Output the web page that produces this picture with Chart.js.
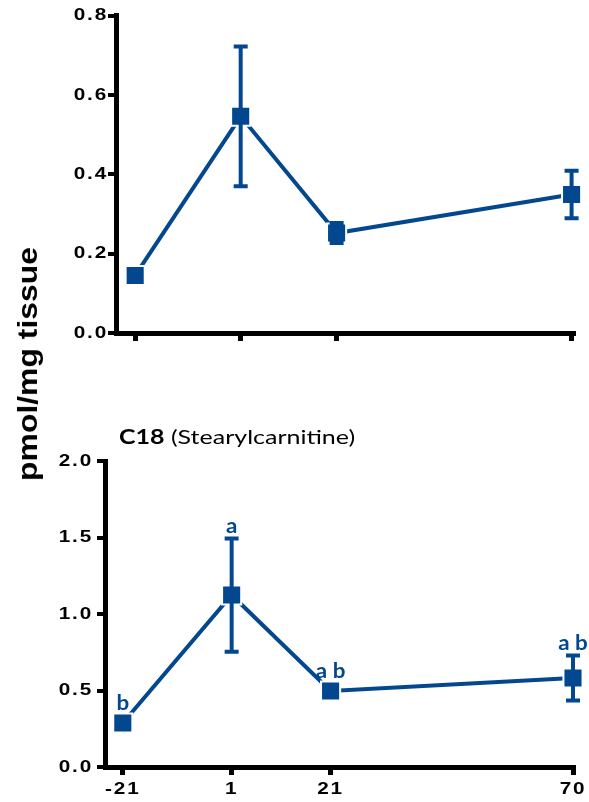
<!DOCTYPE html>
<html>
<head>
<meta charset="utf-8">
<script src="https://cdn.jsdelivr.net/npm/chart.js@4.4.1/dist/chart.umd.min.js"></script>
<style>
  html, body { margin: 0; padding: 0; background: #fff; overflow: hidden; }
  body { width: 589px; height: 802px; position: relative; }
  canvas { position: absolute; left: 0; }
  #topChart { top: 0; }
  #c18Chart { top: 400px; }
  #yTitle {
    position: absolute; left: 28px; top: 364px;
    transform: translate(-50%, -50%) rotate(-90deg) scaleX(1.14);
    font: bold 28px 'Liberation Sans', Arial, sans-serif;
    white-space: nowrap; color: #000;
  }
  #c18Title {
    position: absolute; left: 119px; top: 424px;
    transform-origin: 0 50%; transform: scaleX(1.25);
    font: 20px Lato, sans-serif; color: #000; white-space: nowrap;
  }
</style>
</head>
<body>
<canvas id="topChart" width="589" height="360"></canvas>
<canvas id="c18Chart" width="589" height="402"></canvas>
<div id="yTitle">pmol/mg tissue</div>
<div id="c18Title"><b>C18</b> (Stearylcarnitine)</div>
<script>
// days relative to calving
const days = [-21, 1, 21, 70];

// upper panel
const topMeans = [0.145, 0.546, 0.252, 0.349];
const topErrors = [0.01, 0.176, 0.025, 0.06];
const topYTicks = [0, 0.2, 0.4, 0.6, 0.8];

// C18 panel
const c18Means = [0.288, 1.124, 0.497, 0.582];
const c18Errors = [0.015, 0.37, 0.025, 0.147];
const c18YTicks = [0, 0.5, 1.0, 1.5, 2.0];
const c18Letters = ['b', 'a', 'a b', 'a b'];

const BLUE = '#03478F';
const WIDE = 1.22; // the figure's lettering is set wide

function wideText(ctx, s, px, py, align, k) {
  ctx.save();
  ctx.translate(px, py);
  ctx.scale(k, 1);
  ctx.textAlign = align;
  ctx.fillText(s, 0, 0);
  ctx.restore();
}

// SEM whiskers, significance letters and the wide tick labels
function panelExtras(errors, letters, xLabels, yPad) {
  return {
    id: 'panelExtras',
    afterDatasetsDraw(chart) {
      const ctx = chart.ctx;
      const y = chart.scales.y;
      const ds = chart.data.datasets[0];
      const pts = chart.getDatasetMeta(0).data;
      ctx.save();
      ctx.strokeStyle = BLUE;
      ctx.fillStyle = BLUE;
      ctx.lineWidth = 4;
      pts.forEach((p, i) => {
        const v = ds.data[i].y;
        const hi = y.getPixelForValue(v + errors[i]);
        const lo = y.getPixelForValue(v - errors[i]);
        ctx.beginPath();
        ctx.moveTo(p.x, hi); ctx.lineTo(p.x, lo);
        ctx.moveTo(p.x - 7, hi); ctx.lineTo(p.x + 7, hi);
        ctx.moveTo(p.x - 7, lo); ctx.lineTo(p.x + 7, lo);
        ctx.stroke();
        if (letters) {
          ctx.font = 'bold 20px Lato, sans-serif';
          ctx.textBaseline = 'alphabetic';
          wideText(ctx, letters[i], p.x, Math.min(hi, p.y - 8) - 5, 'center', 1.12);
        }
      });
      ctx.restore();
    },
    afterDraw(chart) {
      const { ctx, chartArea, scales: { x, y } } = chart;
      ctx.save();
      ctx.fillStyle = '#000';
      ctx.font = 'bold 17px "Liberation Sans", Arial, sans-serif';
      ctx.letterSpacing = '1.5px';
      ctx.textBaseline = 'middle';
      y.ticks.forEach(t => {
        wideText(ctx, t.value.toFixed(1), chartArea.left - 8 - yPad, y.getPixelForValue(t.value), 'right', WIDE);
      });
      if (xLabels) {
        x.ticks.forEach(t => {
          wideText(ctx, String(t.value), x.getPixelForValue(t.value), chartArea.bottom + 22, 'center', WIDE);
        });
      }
      ctx.restore();
    }
  };
}

function makeChart(id, c) {
  return new Chart(document.getElementById(id), {
    type: 'line',
    data: {
      datasets: [{
        data: days.map((d, i) => ({ x: d, y: c.means[i] })),
        borderColor: BLUE,
        borderWidth: 4,
        pointStyle: 'rect',
        pointRadius: 13.5,
        pointBackgroundColor: BLUE,
        pointBorderColor: '#fff',
        pointBorderWidth: 2,
        tension: 0,
        clip: false
      }]
    },
    options: {
      responsive: false,
      animation: false,
      events: [],
      layout: { padding: { top: c.top, right: c.right, left: 0, bottom: 0 } },
      plugins: { legend: { display: false }, tooltip: { enabled: false } },
      scales: {
        x: {
          type: 'linear',
          min: c.xMin,
          max: c.xMax,
          afterFit: s => { s.height = c.xHeight; },
          afterBuildTicks: s => { s.ticks = days.map(v => ({ value: v })); },
          border: { display: true, color: '#000', width: 5 },
          grid: { drawOnChartArea: false, drawTicks: true, tickLength: 8, color: '#000', lineWidth: 5 },
          ticks: { display: false }
        },
        y: {
          min: 0,
          max: c.yTicks[c.yTicks.length - 1],
          afterFit: s => { s.width = c.left; },
          afterBuildTicks: s => { s.ticks = c.yTicks.map(v => ({ value: v })); },
          border: { display: true, color: '#000', width: 5 },
          grid: { drawOnChartArea: false, drawTicks: true, tickLength: 8, color: '#000', lineWidth: 4 },
          ticks: { display: false }
        }
      }
    },
    plugins: [panelExtras(c.errors, c.letters, c.xLabels, c.yPad)]
  });
}

makeChart('topChart', {
  means: topMeans, errors: topErrors, yTicks: topYTicks, letters: null,
  top: 12, right: 1, left: 116, xHeight: 27,
  xMin: -25, xMax: 70.4, xLabels: false, yPad: 0
});

makeChart('c18Chart', {
  means: c18Means, errors: c18Errors, yTicks: c18YTicks, letters: c18Letters,
  top: 61, right: 16, left: 105, xHeight: 35,
  xMin: -24.6, xMax: 70, xLabels: true, yPad: 4
});
</script>
</body>
</html>
